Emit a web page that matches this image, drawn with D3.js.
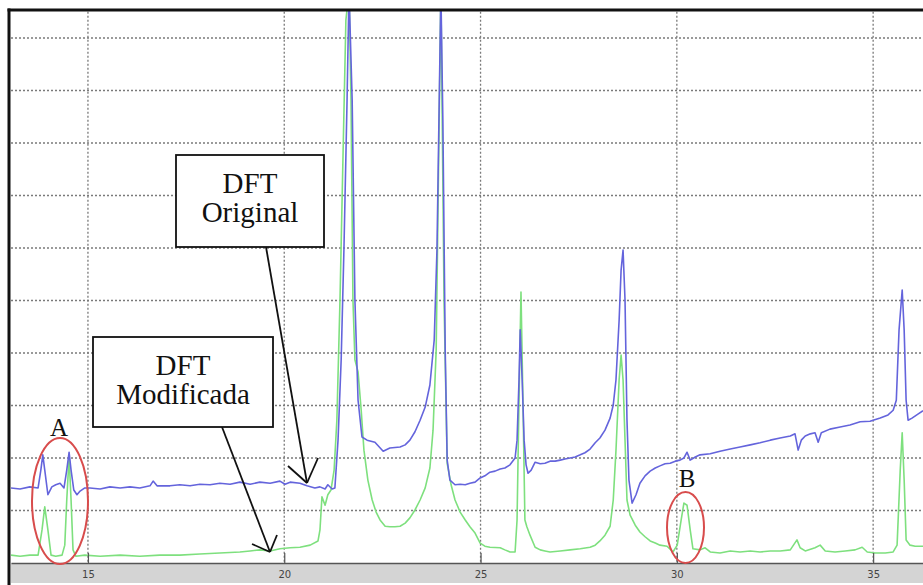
<!DOCTYPE html>
<html>
<head>
<meta charset="utf-8">
<script src="https://cdn.jsdelivr.net/npm/d3@7"></script>
<style>
  html, body { margin: 0; padding: 0; background: #fff; }
  svg { display: block; }
</style>
</head>
<body>
<svg id="chart" width="923" height="585"></svg>
<script>
// ---- data ----
const xTicks = [15, 20, 25, 30, 35];
const gridLevels = [1, 2, 3, 4, 5, 6, 7, 8, 9, 10];

// DFT Original (blue)
const origX = [13.04,13.27,13.52,13.73,13.80,13.85,13.90,13.98,14.08,14.18,14.29,14.39,14.46,14.52,14.57,14.64,14.72,14.80,14.92,15.05,15.31,15.56,15.82,16.07,16.32,16.58,16.66,16.76,17.09,17.34,17.60,17.85,18.11,18.36,18.62,18.87,19.13,19.38,19.64,19.89,20.02,20.15,20.40,20.58,20.78,20.91,21.04,21.11,21.22,21.29,21.37,21.45,21.52,21.60,21.65,21.73,21.80,21.88,21.98,22.11,22.31,22.52,22.69,22.95,23.08,23.20,23.33,23.46,23.59,23.71,23.82,23.89,23.94,23.99,24.04,24.10,24.15,24.22,24.35,24.48,24.61,24.73,24.86,24.99,25.11,25.24,25.37,25.50,25.62,25.75,25.88,25.93,25.98,26.01,26.06,26.11,26.16,26.21,26.29,26.39,26.52,26.64,26.77,26.90,27.03,27.15,27.28,27.41,27.54,27.66,27.79,27.92,28.04,28.17,28.30,28.38,28.45,28.53,28.58,28.63,28.68,28.73,28.78,28.86,28.96,29.06,29.19,29.32,29.45,29.57,29.70,29.83,29.96,30.08,30.18,30.26,30.34,30.47,30.59,30.85,31.10,31.36,31.61,31.87,32.12,32.38,32.63,32.89,33.01,33.09,33.17,33.27,33.40,33.52,33.60,33.68,33.90,34.16,34.41,34.67,34.92,35.18,35.38,35.51,35.59,35.66,35.74,35.79,35.84,35.89,35.99,36.15,36.27];
const origY = [1.43,1.41,1.45,1.43,1.77,2.06,1.77,1.30,1.45,1.49,1.52,1.43,1.77,2.11,1.77,1.39,1.30,1.37,1.43,1.43,1.41,1.45,1.43,1.45,1.43,1.47,1.56,1.47,1.47,1.49,1.47,1.50,1.49,1.52,1.50,1.54,1.50,1.54,1.52,1.56,1.50,1.54,1.52,1.47,1.43,1.45,1.41,1.49,1.41,1.43,2.34,3.87,5.96,8.82,10.9,8.82,5.01,3.10,2.40,2.34,2.30,2.13,2.19,2.21,2.25,2.34,2.50,2.72,2.97,3.39,4.25,5.96,8.44,10.9,8.44,4.06,1.96,1.58,1.49,1.50,1.49,1.52,1.54,1.62,1.66,1.73,1.75,1.79,1.81,1.87,2.00,2.34,3.49,4.44,3.49,2.34,1.87,1.71,1.77,1.92,1.89,1.90,1.94,1.94,1.96,1.98,2.00,2.02,2.06,2.10,2.17,2.29,2.38,2.53,2.76,3.01,3.49,4.63,5.58,5.96,5.01,2.72,1.58,1.14,1.30,1.52,1.66,1.75,1.81,1.85,1.89,1.90,1.94,1.96,2.00,2.11,1.96,2.02,2.06,2.08,2.13,2.17,2.21,2.25,2.29,2.34,2.38,2.42,2.46,2.15,2.34,2.42,2.46,2.48,2.30,2.48,2.55,2.59,2.63,2.69,2.70,2.76,2.82,2.91,3.10,4.44,5.20,4.44,3.10,2.72,2.76,2.84,2.90];

// DFT Modificada (green)
const modX = [13.04,13.27,13.52,13.73,13.83,13.90,13.98,14.06,14.18,14.34,14.41,14.46,14.52,14.57,14.62,14.69,14.92,15.31,15.82,16.32,16.83,17.34,17.85,18.36,18.87,19.13,19.38,19.64,19.89,20.15,20.40,20.66,20.86,20.91,20.96,21.04,21.11,21.19,21.27,21.34,21.42,21.50,21.57,21.65,21.70,21.75,21.80,21.88,21.96,22.03,22.13,22.24,22.34,22.44,22.57,22.69,22.82,22.95,23.08,23.20,23.33,23.46,23.59,23.71,23.79,23.87,23.92,23.99,24.07,24.15,24.25,24.35,24.48,24.61,24.73,24.86,24.99,25.11,25.24,25.50,25.62,25.75,25.88,25.93,25.98,26.03,26.08,26.13,26.18,26.26,26.39,26.52,26.64,26.77,27.03,27.28,27.54,27.79,27.92,28.04,28.17,28.30,28.38,28.45,28.53,28.58,28.63,28.68,28.73,28.81,28.94,29.06,29.19,29.32,29.45,29.57,29.75,29.90,30.01,30.11,30.18,30.26,30.34,30.41,30.59,30.72,30.85,31.10,31.36,31.61,31.87,32.12,32.38,32.63,32.89,33.06,33.14,33.27,33.52,33.65,33.78,34.03,34.29,34.54,34.72,34.85,35.05,35.31,35.51,35.61,35.69,35.74,35.79,35.84,35.94,36.07,36.27];
const modY = [0.15,0.13,0.15,0.15,0.63,1.07,0.63,0.15,0.13,0.15,0.34,1.20,2.02,1.20,0.25,0.13,0.15,0.13,0.15,0.13,0.15,0.15,0.17,0.19,0.21,0.23,0.25,0.23,0.27,0.29,0.30,0.34,0.42,0.63,1.26,1.10,1.30,1.39,1.77,2.72,5.01,7.87,10.34,10.9,8.82,5.01,3.87,3.64,2.91,2.15,1.58,1.20,0.97,0.82,0.70,0.69,0.69,0.70,0.76,0.86,1.01,1.20,1.43,1.81,2.53,4.06,6.91,10.9,5.01,1.90,1.49,1.20,0.97,0.82,0.69,0.57,0.38,0.32,0.30,0.29,0.25,0.21,0.21,0.82,3.10,5.16,3.10,0.82,0.69,0.53,0.30,0.25,0.23,0.21,0.23,0.25,0.27,0.30,0.34,0.42,0.53,0.70,1.20,2.15,3.49,3.96,3.49,2.34,1.20,0.91,0.72,0.59,0.50,0.42,0.38,0.34,0.32,0.21,0.34,0.82,1.14,1.10,0.63,0.27,0.25,0.29,0.21,0.19,0.23,0.21,0.23,0.21,0.23,0.23,0.25,0.44,0.29,0.23,0.29,0.34,0.23,0.21,0.23,0.25,0.30,0.21,0.19,0.19,0.21,0.34,1.77,2.48,1.58,0.44,0.34,0.32,0.32];

const original = origX.map((x, i) => ({ x, y: origY[i] }));
const modified = modX.map((x, i) => ({ x, y: modY[i] }));

// ---- layout ----
const svg = d3.select("#chart");
const W = 923, H = 585;
const pL = 11, pR = 923, pT = 11.75, pB = 563;

const x = d3.scaleLinear().domain([13.04, 36.27]).range([pL, pR]);
const y = d3.scaleLinear().domain([0, 10.5]).range([pB, pT]);

svg.append("rect").attr("width", W).attr("height", H).attr("fill", "#fff");

// gray axis band
svg.append("rect").attr("x", pL).attr("y", pB).attr("width", pR - pL).attr("height", 20)
  .attr("fill", "#d4d4d4");

svg.append("defs").append("clipPath").attr("id", "plotclip")
  .append("rect").attr("x", pL).attr("y", pT - 1).attr("width", pR - pL).attr("height", pB - pT + 1);

// grid
const grid = svg.append("g");
grid.selectAll("line.h").data(gridLevels).enter().append("line")
  .attr("x1", pL).attr("x2", pR)
  .attr("y1", d => y(d)).attr("y2", d => y(d))
  .attr("stroke", "#7a7a7a").attr("stroke-width", 1.3).attr("stroke-dasharray", "2,2");
grid.selectAll("line.v").data(xTicks).enter().append("line")
  .attr("x1", d => x(d)).attr("x2", d => x(d))
  .attr("y1", pT).attr("y2", pB)
  .attr("stroke", "#7a7a7a").attr("stroke-width", 1.3).attr("stroke-dasharray", "2,2");

// lines
const line = d3.line().x(d => x(d.x)).y(d => y(d.y));
const plot = svg.append("g").attr("clip-path", "url(#plotclip)");
plot.append("path").datum(modified).attr("d", line)
  .attr("fill", "none").attr("stroke", "#7ee07e").attr("stroke-width", 1.6).attr("stroke-linejoin", "round");
plot.append("path").datum(original).attr("d", line)
  .attr("fill", "none").attr("stroke", "#6464dc").attr("stroke-width", 1.6).attr("stroke-linejoin", "round");

// x axis
const axis = svg.append("g").attr("transform", `translate(0,${pB})`)
  .call(d3.axisBottom(x).tickValues(xTicks).tickFormat(d3.format("d"))
    .tickSizeInner(-10).tickSizeOuter(0).tickPadding(8));
axis.select(".domain").attr("stroke", "#555").attr("stroke-width", 1.5);
axis.selectAll(".tick line").attr("stroke", "#555").attr("stroke-width", 1.2);
axis.selectAll(".tick text").attr("fill", "#444").attr("font-size", 10)
  .attr("font-family", "DejaVu Sans, sans-serif");

// frame
svg.append("line").attr("x1", 9).attr("x2", 9).attr("y1", 8.5).attr("y2", H).attr("stroke", "#111").attr("stroke-width", 3);
svg.append("line").attr("x1", 7.5).attr("x2", W).attr("y1", 10).attr("y2", 10).attr("stroke", "#111").attr("stroke-width", 3);

// annotations
const ann = svg.append("g").attr("font-family", "Liberation Serif, Times New Roman, serif").attr("fill", "#111");

function arrow(x1, y1, x2, y2, a1, a2) {
  const g = ann.append("g").attr("stroke", "#111").attr("stroke-width", 1.8).attr("fill", "none");
  g.append("line").attr("x1", x1).attr("y1", y1).attr("x2", x2).attr("y2", y2);
  g.append("line").attr("x1", x2).attr("y1", y2).attr("x2", a1[0]).attr("y2", a1[1]);
  g.append("line").attr("x1", x2).attr("y1", y2).attr("x2", a2[0]).attr("y2", a2[1]);
}
arrow(266, 247, 307, 483, [288, 466], [318, 458]);
arrow(222, 427, 270, 552, [252, 544], [277, 535]);

function box(bx, by, bw, bh, l1, l2) {
  ann.append("rect").attr("x", bx).attr("y", by).attr("width", bw).attr("height", bh)
    .attr("fill", "#fff").attr("stroke", "#111").attr("stroke-width", 1.8);
  ann.append("text").attr("x", bx + bw / 2).attr("y", by + 38).attr("text-anchor", "middle")
    .attr("font-size", 29).text(l1);
  ann.append("text").attr("x", bx + bw / 2).attr("y", by + 67).attr("text-anchor", "middle")
    .attr("font-size", 29).text(l2);
}
box(176, 155, 148, 92, "DFT", "Original");
box(93, 337, 180, 90, "DFT", "Modificada");

// circled regions
ann.append("ellipse").attr("cx", 60).attr("cy", 501).attr("rx", 28).attr("ry", 63)
  .attr("fill", "none").attr("stroke", "#d84c4c").attr("stroke-width", 2);
ann.append("ellipse").attr("cx", 685.5).attr("cy", 527.5).attr("rx", 18.5).attr("ry", 35.5)
  .attr("fill", "none").attr("stroke", "#d84c4c").attr("stroke-width", 2);
ann.append("text").attr("x", 59).attr("y", 436).attr("text-anchor", "middle").attr("font-size", 25).text("A");
ann.append("text").attr("x", 687).attr("y", 487).attr("text-anchor", "middle").attr("font-size", 25).text("B");
</script>
</body>
</html>
